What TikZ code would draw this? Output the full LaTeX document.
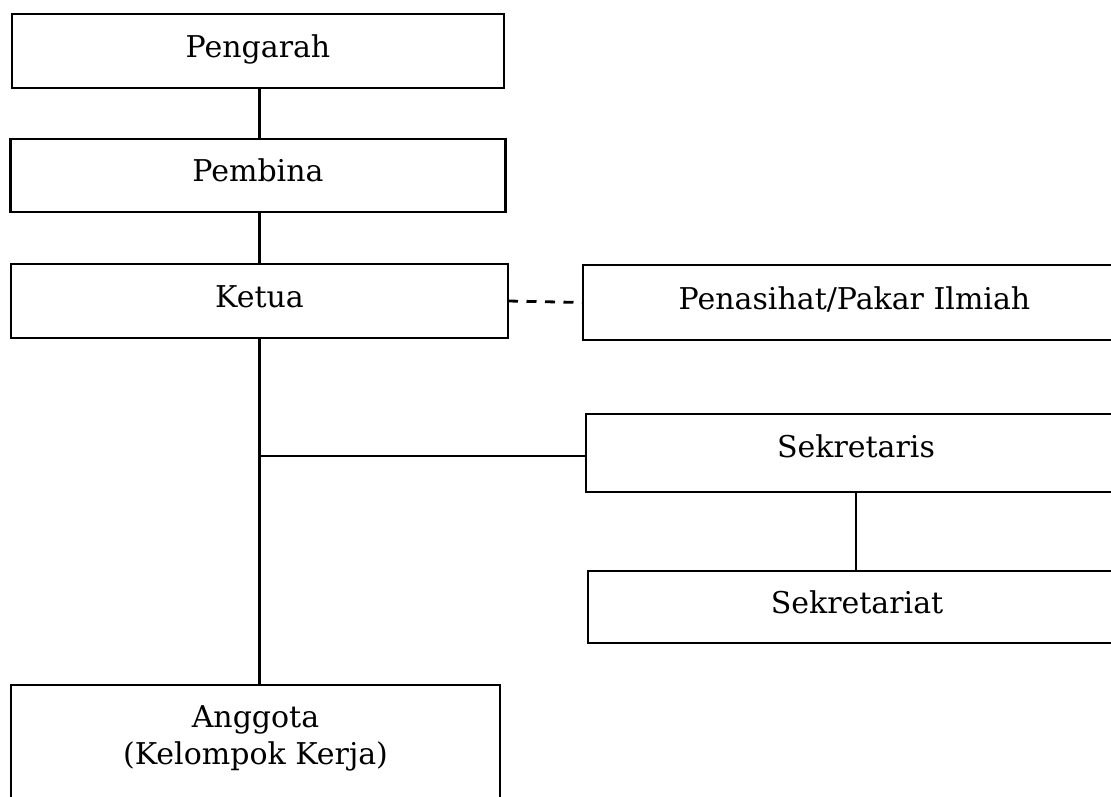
\documentclass[tikz,border=0pt]{standalone}
\usepackage{fontspec}
\setmainfont{DejaVu Serif}
\begin{document}
\begin{tikzpicture}[x=1pt,y=-1pt,
  box/.style={draw=black, line width=2.8pt, rectangle, inner sep=0pt, outer sep=0pt,
    font=\fontsize{30}{38}\selectfont, text height=22pt, text depth=9pt},
  lbl/.style={font=\fontsize{30}{37}\selectfont, align=center, inner sep=0pt},
  link/.style={draw=black, line width=2.8pt},
  dlink/.style={draw=black, line width=2.8pt, dash pattern=on 10pt off 8.5pt}]
\useasboundingbox (0,0) rectangle (1111,797);
\clip (0,0) rectangle (1111,797);
\fill[white] (0,0) rectangle (1111,797);

\node[box, minimum width=492pt, minimum height=74pt] (pengarah) at (258,51) {Pengarah};
\node[box, minimum width=495pt, minimum height=73pt] (pembina) at (258,175.5) {Pembina};
\node[box, minimum width=497pt, minimum height=74pt] (ketua) at (259.5,301) {Ketua};
\node[box, minimum width=543pt, minimum height=75pt] (penasihat) at (854.5,302.5) {Penasihat/Pakar Ilmiah};
\node[box, minimum width=540pt, minimum height=78pt, text depth=13pt] (sekretaris) at (856,453) {Sekretaris};
\node[box, minimum width=538pt, minimum height=72pt, text depth=10pt] (sekretariat) at (857,607) {Sekretariat};
\node[box, minimum width=489pt, minimum height=180pt, anchor=north,
  label={[lbl, anchor=north, yshift=-20pt]north:{Anggota\\(Kelompok Kerja)}}] (anggota) at (255.5,685) {};

\coordinate (junc) at ([yshift=-3pt]ketua.south |- sekretaris.west);
\draw[link] (pengarah.south -| ketua.south) -- (pembina.north -| ketua.south);
\draw[link] (pembina.south -| ketua.south) -- (ketua.north);
\draw[link] (ketua.south) -- (ketua.south |- anggota.north);
\draw[link] (junc) -- (junc -| sekretaris.west);
\draw[link] (sekretaris.south) -- (sekretaris.south |- sekretariat.north);
\draw[dlink] (ketua.east) -- (penasihat.west);
\end{tikzpicture}
\end{document}
